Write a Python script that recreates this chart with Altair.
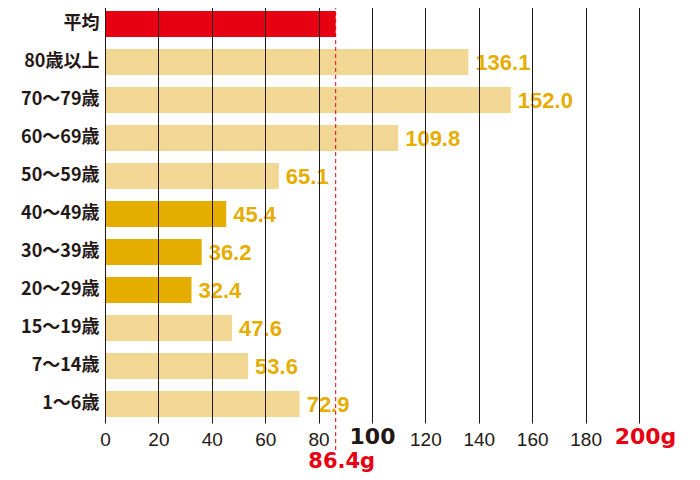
import altair as alt
import pandas as pd

categories = ["平均", "80歳以上", "70～79歳", "60～69歳", "50～59歳", "40～49歳",
              "30～39歳", "20～29歳", "15～19歳", "7～14歳", "1～6歳"]
values = [86.4, 136.1, 152.0, 109.8, 65.1, 45.4, 36.2, 32.4, 47.6, 53.6, 72.9]
groups = ["平均", "その他", "その他", "その他", "その他", "20～49歳", "20～49歳",
          "20～49歳", "その他", "その他", "その他"]
value_labels = ["", "136.1", "152.0", "109.8", "65.1", "45.4", "36.2", "32.4",
                "47.6", "53.6", "72.9"]
x_ticks = [0, 20, 40, 60, 80, 100, 120, 140, 160, 180, 200]
average = [86.4]
average_label = ["86.4g"]

group_domain = ["平均", "その他", "20～49歳"]
group_colors = ["#E60012", "#F2D693", "#E5AD00"]

RED = "#E60012"
INK = "#231815"
GOLD = "#E5AD00"

df = pd.DataFrame({"cat": categories, "val": values, "grp": groups, "lab": value_labels})
avg_df = pd.DataFrame({"avg": average, "lab": average_label})

W, H = 534, 418
BIG = "datum.value == 100 || datum.value == 200"

x_axis = alt.Axis(
    values=x_ticks, title=None, grid=True, gridColor=INK, gridWidth=1, gridOpacity=1,
    domain=False, ticks=False, tickSize=0, labelBaseline="middle",
    labelFlush=False, labelOverlap=False,
    labelExpr="datum.value == 200 ? '200g' : datum.label",
    labelPadding={"condition": {"test": BIG, "value": 13}, "value": 16},
    labelFont={"condition": {"test": BIG, "value": "DejaVu Sans"},
               "value": "Liberation Sans Narrow, Liberation Sans"},
    labelFontSize={"condition": {"test": BIG, "value": 22}, "value": 19},
    labelFontWeight={"condition": {"test": BIG, "value": "bold"}, "value": "normal"},
    labelColor={"condition": {"test": "datum.value == 200", "value": RED}, "value": INK},
    labelOffset={"condition": {"test": "datum.value == 200", "value": 6}, "value": 0},
    zindex=1,
)

x = alt.X("val:Q", scale=alt.Scale(domain=[0, 200], nice=False, zero=True), axis=x_axis)
y = alt.Y("cat:N", sort=categories,
          scale=alt.Scale(paddingInner=0.32, paddingOuter=0.16),
          axis=alt.Axis(title=None, domain=False, ticks=False, labelFont="Noto Sans CJK JP",
                        labelFontWeight="bold", labelFontSize=18, labelColor=INK, labelPadding=6))

base = alt.Chart(df)

bars = base.mark_bar().encode(
    x=x, y=y,
    color=alt.Color("grp:N", scale=alt.Scale(domain=group_domain, range=group_colors), legend=None),
)

texts = base.transform_filter("datum.lab != ''").mark_text(
    align="left", baseline="middle", dx=7, dy=1, font="Liberation Sans", fontWeight="bold",
    fontSize=22, color=GOLD
).encode(x="val:Q", y=alt.Y("cat:N", sort=categories), text="lab:N")

avg_rule = alt.Chart(avg_df).mark_rule(color=RED, strokeDash=[4, 3], strokeWidth=1).encode(
    x="avg:Q", y=alt.value(0), y2=alt.value(448)
)

avg_text = alt.Chart(avg_df).mark_text(
    align="center", baseline="middle", dx=6, font="DejaVu Sans", fontWeight="bold",
    fontSize=21, color=RED
).encode(x="avg:Q", y=alt.value(457), text="lab:N")

chart = alt.layer(bars, texts, avg_rule, avg_text).properties(
    width=W, height=H,
    autosize=alt.AutoSizeParams(type="none"),
    padding={"left": 97, "top": -3, "right": 45, "bottom": 49},
    background="white",
).configure_view(stroke=None)

chart.save("out.html", embed_options={"renderer": "svg", "actions": False})
